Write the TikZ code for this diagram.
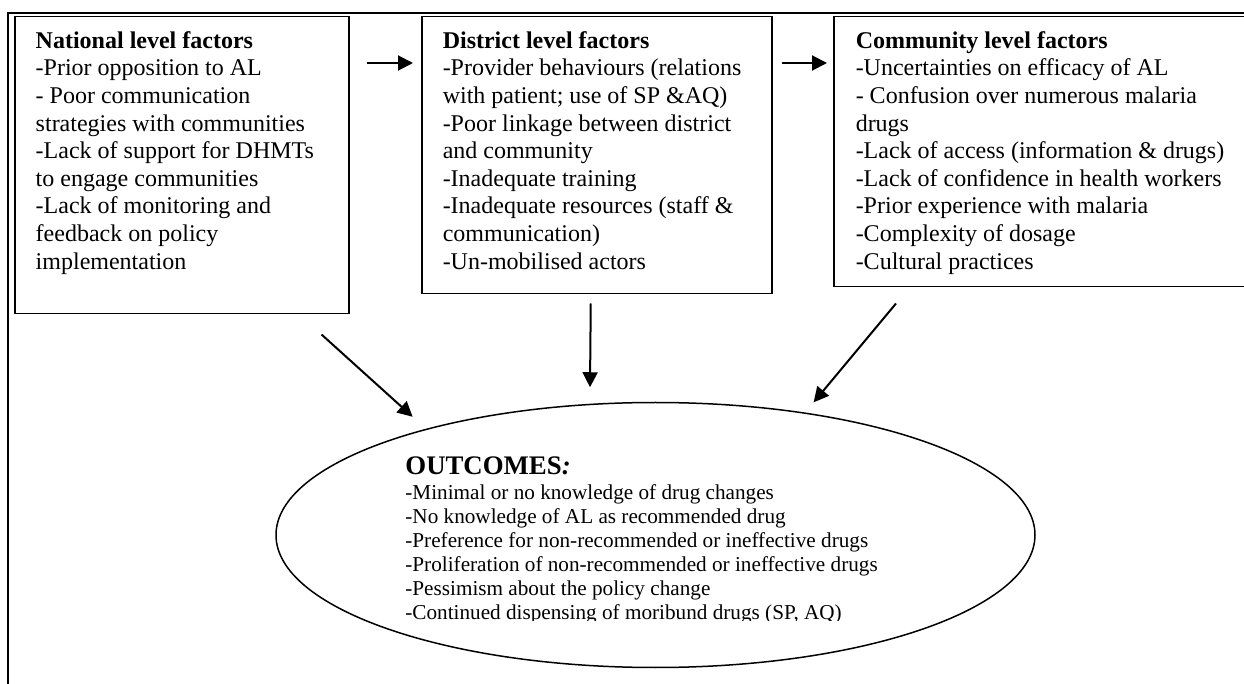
\documentclass[tikz,border=0pt]{standalone}
\usepackage{fontspec}
\setmainfont{Liberation Serif}
\usetikzlibrary{arrows.meta,shapes.geometric}

\begin{document}
\begin{tikzpicture}[x=0.5pt, y=-0.5pt, >={Triangle[length=7.5pt,width=7.5pt]},
        every node/.style={font=\fontsize{12}{13.8}\selectfont},
        factorbox/.style={draw, line width=0.75pt, anchor=north west, inner xsep=10.5pt, inner ysep=7.3pt},
        flow/.style={->, line width=1pt}]
        \useasboundingbox (0,0) rectangle (1244,684);
        \clip (0,0) rectangle (1244,684);
        \draw[line width=1pt] (8,700) -- (8,13) -- (1260,13);
        \node[factorbox] (nat) at (14,16) {\parbox[t][133.9pt][t]{146pt}{\raggedright
            \textbf{National level factors}\\
            -Prior opposition to AL\\
            - Poor communication\\
            strategies with communities\\
            -Lack of support for DHMTs\\
            to engage communities\\
            -Lack of monitoring and\\
            feedback on policy\\
            implementation}};
        \node[factorbox] (dist) at (421,16) {\parbox[t][123.9pt][t]{154pt}{\raggedright
            \textbf{District level factors}\\
            -Provider behaviours (relations\\
            with patient; use of SP \&AQ)\\
            -Poor linkage between district\\
            and community\\
            -Inadequate training\\
            -Inadequate resources (staff \&\\
            communication)\\
            -Un-mobilised actors}};
        \node[factorbox, inner xsep=11pt] (comm) at (833,16) {\parbox[t][120.4pt][t]{192.5pt}{\raggedright
            \textbf{Community level factors}\\
            -Uncertainties on efficacy of AL\\
            - Confusion over numerous malaria\\
            drugs\\
            -Lack of access (information \& drugs)\\
            -Lack of confidence in health workers\\
            -Prior experience with malaria\\
            -Complexity of dosage\\
            -Cultural practices}};
        \node[draw, ellipse, line width=0.75pt, minimum width=379.5pt, minimum height=132.5pt, inner sep=0pt] (out) at (655.5,535) {};
        \begin{scope}
            \clip (380,440) rectangle (1000,620.5);
            \node[anchor=north west, inner sep=0pt, align=left, font=\fontsize{10.6}{12}\selectfont] (outtext) at (405,456)
                {{\fontsize{13.4}{15}\selectfont\bfseries OUTCOMES\textit{:}}\\[0.5pt]
                -Minimal or no knowledge of drug changes\\
                -No knowledge of AL as recommended drug\\
                -Preference for non-recommended or ineffective drugs\\
                -Proliferation of non-recommended or ineffective drugs\\
                -Pessimism about the policy change\\
                -Continued dispensing of moribund drugs (SP, AQ)};
        \end{scope}
        \draw[flow] ([shift={(8.5pt,-23.5pt)}]nat.north east) -- ([shift={(-4pt,-23.5pt)}]dist.north west);
        \draw[flow] ([shift={(4.5pt,-23.5pt)}]dist.north east) -- ([shift={(-3pt,-23.5pt)}]comm.north west);
        \draw[flow] ([shift={(-14pt,-10pt)}]nat.south east) -- ([shift={(-10.5pt,5pt)}]out.154);
        \draw[flow] ([shift={(-3pt,-4.5pt)}]dist.south) -- ([shift={(-32.75pt,7.25pt)}]out.north);
        \draw[flow] ([shift={(31.5pt,-8pt)}]comm.south west) -- ([shift={(5.8pt,4.85pt)}]out.40);
\end{tikzpicture}
\end{document}
